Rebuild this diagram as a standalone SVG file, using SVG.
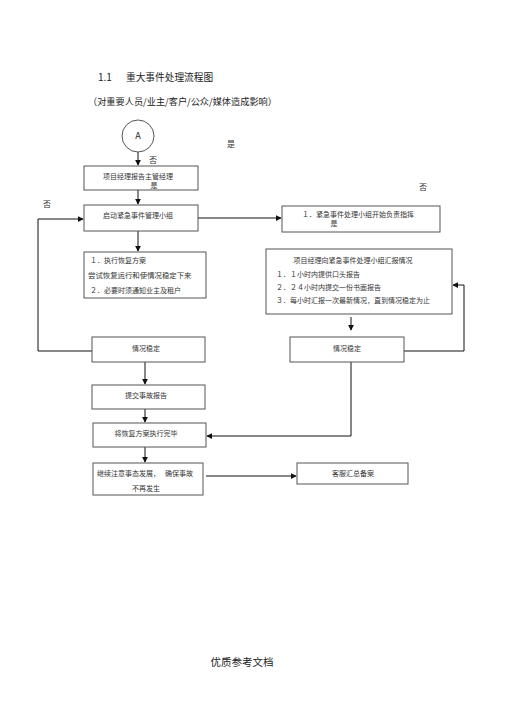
<svg xmlns="http://www.w3.org/2000/svg" width="505" height="714" viewBox="0 0 505 714">
<style>
text{font-family:"Noto Sans CJK SC","Liberation Sans",sans-serif;fill:#333}
.t{font-size:7px}
.m{text-anchor:middle}
.box{fill:#fff;stroke:#555;stroke-width:1}
.ln{fill:none;stroke:#111;stroke-width:1}
.lab{font-size:8px;fill:#333}
</style>
<defs>
<marker id="ar" viewBox="0 0 8 8" refX="7" refY="4" markerWidth="6" markerHeight="6" orient="auto" markerUnits="userSpaceOnUse">
<path d="M0,0 L8,4 L0,8 z" fill="#111"/>
</marker>
</defs>
<rect width="505" height="714" fill="#fff"/>
<text x="98" y="81" style="font-size:10px;fill:#222">1.1</text>
<text x="126" y="81" style="font-size:9.7px;fill:#222">重大事件处理流程图</text>
<text x="88" y="105" style="font-size:9.2px;fill:#222">（对重要人员/业主/客户/公众/媒体造成影响）</text>

<g id="connectors">
<line class="ln" x1="138" y1="152" x2="138" y2="165" marker-end="url(#ar)"/>
<line class="ln" x1="138" y1="190" x2="138" y2="204" marker-end="url(#ar)"/>
<line class="ln" x1="198" y1="218" x2="281" y2="218" marker-end="url(#ar)"/>
<line class="ln" x1="138" y1="231" x2="138" y2="251" marker-end="url(#ar)"/>
<polyline class="ln" points="92,351 38,351 38,219 83,219" marker-end="url(#ar)"/>
<line class="ln" x1="351" y1="317" x2="351" y2="330" marker-end="url(#ar)"/>
<polyline class="ln" points="404,351 464,351 464,285 453,285" marker-end="url(#ar)"/>
<line class="ln" x1="145" y1="362" x2="145" y2="384" marker-end="url(#ar)"/>
<line class="ln" x1="145" y1="409" x2="145" y2="422" marker-end="url(#ar)"/>
<polyline class="ln" points="351,362 351,436 207,436" marker-end="url(#ar)"/>
<line class="ln" x1="145" y1="447" x2="145" y2="462" marker-end="url(#ar)"/>
<line class="ln" x1="206" y1="476" x2="296" y2="476" marker-end="url(#ar)"/>
</g>

<g id="nodeA">
<circle cx="138" cy="136" r="16" fill="#fff" stroke="#555" stroke-width="1"/>
<text x="138" y="139" class="m" style="font-size:9px;fill:#222">A</text>
</g>

<g id="labels">
<text x="153" y="163" class="lab m">否</text>
<text x="231" y="147" class="lab m">是</text>
<text x="423" y="190" class="lab m">否</text>
<text x="47" y="207" class="lab m">否</text>
</g>

<g id="n1">
<rect class="box" x="84" y="166" width="114" height="24"/>
<text x="138" y="179" class="t m">项目经理报告主管经理</text>
<text x="154" y="188" class="t m">是</text>
</g>

<g id="n2">
<rect class="box" x="84" y="205" width="114" height="26"/>
<text x="138" y="218" class="t m">启动紧急事件管理小组</text>
</g>

<g id="n3">
<rect class="box" x="282" y="206" width="158" height="26"/>
<text x="302" y="217" class="t">１．紧急事件处理小组开始负责指挥</text>
<text x="334" y="226" class="t m">是</text>
</g>

<g id="n4">
<rect class="box" x="84" y="252" width="122" height="46"/>
<text x="90" y="263" class="t">１．执行恢复方案</text>
<text x="88" y="278" class="t" style="font-size:7.4px">尝试恢复运行和使情况稳定下来</text>
<text x="90" y="293" class="t">２．必要时须通知业主及租户</text>
</g>

<g id="n5">
<rect class="box" x="266" y="249" width="186" height="65"/>
<text x="353" y="263" class="t m">项目经理向紧急事件处理小组汇报情况</text>
<text x="276" y="277" class="t">１．１小时内提供口头报告</text>
<text x="276" y="290" class="t">２．２４小时内提交一份书面报告</text>
<text x="276" y="303" class="t">３．每小时汇报一次最新情况，直到情况稳定为止</text>
</g>

<g id="n6">
<rect class="box" x="290" y="337" width="114" height="25"/>
<text x="347" y="351" class="t m">情况稳定</text>
</g>

<g id="n7">
<rect class="box" x="92" y="337" width="113" height="25"/>
<text x="146" y="351" class="t m">情况稳定</text>
</g>

<g id="n8">
<rect class="box" x="92" y="385" width="113" height="24"/>
<text x="146" y="398" class="t m">提交事故报告</text>
</g>

<g id="n9">
<rect class="box" x="93" y="423" width="113" height="24"/>
<text x="146" y="436" class="t m">将恢复方案执行完毕</text>
</g>

<g id="n10">
<rect class="box" x="93" y="463" width="110" height="32"/>
<text x="97" y="476" class="t">继续注意事态发展，　 确保事故</text>
<text x="146" y="491" class="t m">不再发生</text>
</g>

<g id="n11">
<rect class="box" x="297" y="463" width="111" height="21"/>
<text x="353" y="476" class="t m">客服汇总备案</text>
</g>

<text x="242" y="666" class="m" style="font-size:10.5px;fill:#222">优质参考文档</text>
</svg>
